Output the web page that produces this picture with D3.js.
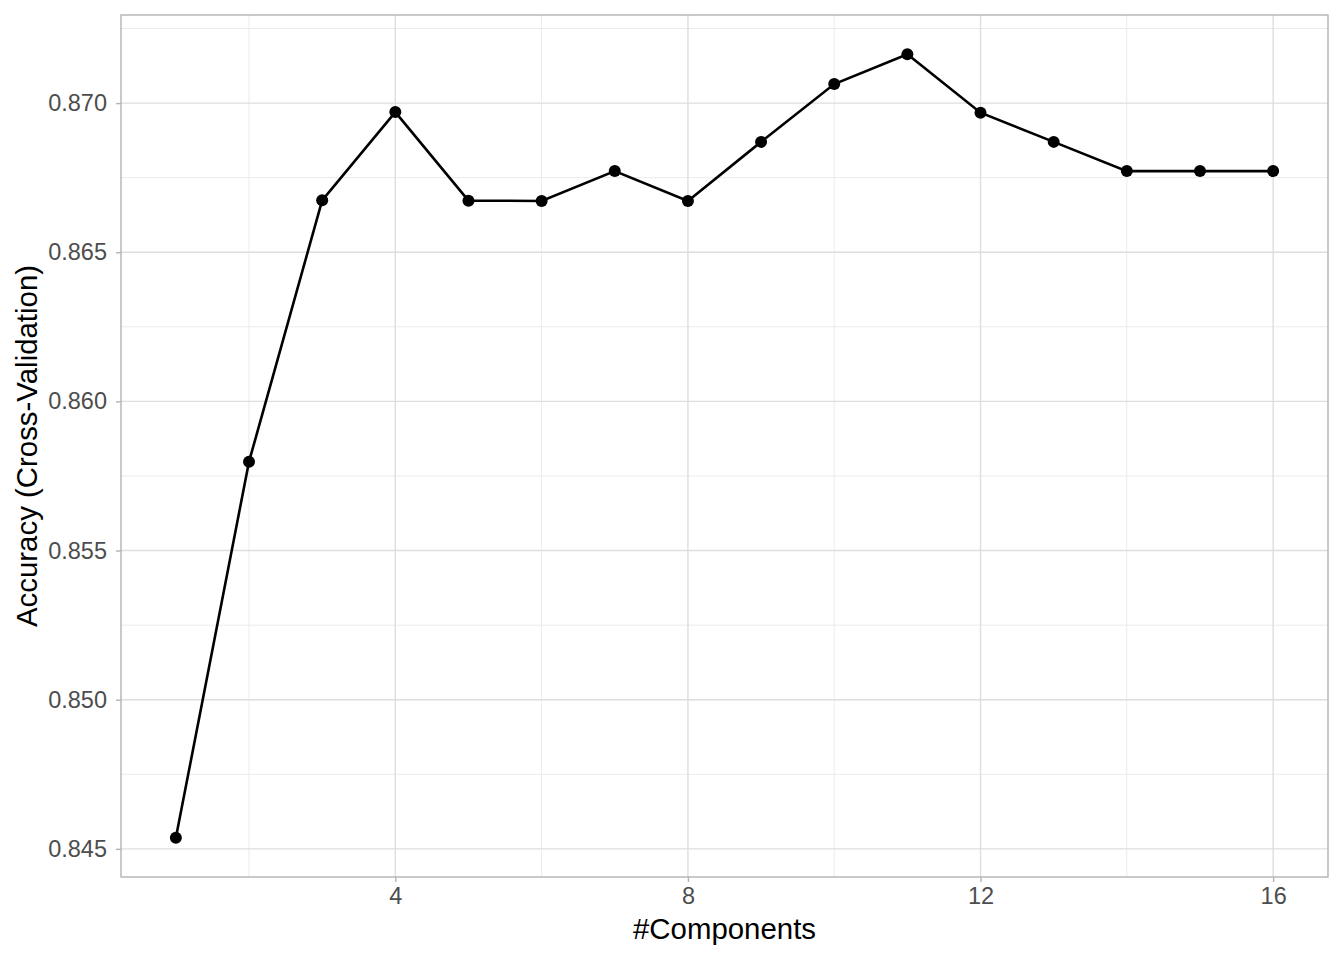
<!DOCTYPE html>
<html>
<head>
<meta charset="utf-8">
<script src="https://cdn.jsdelivr.net/npm/d3@7"></script>
<style>
  body { margin: 0; background: #fff; }
  text { font-family: "Liberation Sans", Arial, sans-serif; }
</style>
</head>
<body>
<div class="canvas"></div>
<script>
// number of components and cross-validated accuracy
const components = [1, 2, 3, 4, 5, 6, 7, 8, 9, 10, 11, 12, 13, 14, 15, 16];
const accuracy = [0.84537, 0.85798, 0.86674, 0.86970, 0.86673, 0.86672, 0.86772, 0.86672,
                  0.86870, 0.87064, 0.87164, 0.86968, 0.86870, 0.86772, 0.86772, 0.86772];
const xTicks = [4, 8, 12, 16];
const yTicks = [0.845, 0.850, 0.855, 0.860, 0.865, 0.870];

const margin = {top: 15, right: 16, bottom: 83, left: 121},
    width = 1344 - margin.left - margin.right,
    height = 960 - margin.top - margin.bottom;

const svg = d3.select('.canvas').append('svg')
    .attr('width', width + margin.left + margin.right)
    .attr('height', height + margin.top + margin.bottom);

const graph = svg.append('g')
    .attr('transform', `translate(${margin.left}, ${margin.top})`);

const data = components.map((c, i) => ({x: c, y: accuracy[i]}));

// ggplot style 5% expansion
const xe = (d3.max(components) - d3.min(components)) * 0.05;
const x = d3.scaleLinear()
    .domain([d3.min(components) - xe, d3.max(components) + xe])
    .range([0, width]);

const yMin = d3.min(accuracy), yMax = d3.max(accuracy);
const ye = (yMax - yMin) * 0.05;
const y = d3.scaleLinear()
    .domain([yMin - ye, yMax + ye])
    .range([height, 0]);

// minor grid at midpoints
const xMinor = [2, 6, 10, 14];
const yMinor = yTicks.slice(0, -1).map(v => v + 0.0025).concat([0.8725]);

graph.selectAll('.xminor').data(xMinor).enter().append('line')
    .attr('x1', d => x(d)).attr('x2', d => x(d))
    .attr('y1', 0).attr('y2', height)
    .attr('stroke', '#ebebeb').attr('stroke-width', 1);
graph.selectAll('.yminor').data(yMinor.filter(v => v < y.domain()[1])).enter().append('line')
    .attr('x1', 0).attr('x2', width)
    .attr('y1', d => y(d)).attr('y2', d => y(d))
    .attr('stroke', '#ebebeb').attr('stroke-width', 1);

graph.selectAll('.xmajor').data(xTicks).enter().append('line')
    .attr('x1', d => x(d)).attr('x2', d => x(d))
    .attr('y1', 0).attr('y2', height)
    .attr('stroke', '#dedede').attr('stroke-width', 1.4);
graph.selectAll('.ymajor').data(yTicks).enter().append('line')
    .attr('x1', 0).attr('x2', width)
    .attr('y1', d => y(d)).attr('y2', d => y(d))
    .attr('stroke', '#dedede').attr('stroke-width', 1.4);

// axes
const xAxis = graph.append('g')
    .attr('transform', `translate(0, ${height})`)
    .call(d3.axisBottom(x).tickValues(xTicks).tickSize(5).tickPadding(5).tickFormat(d3.format('d')));
const yAxis = graph.append('g')
    .call(d3.axisLeft(y).tickValues(yTicks).tickSize(5).tickPadding(9).tickFormat(d3.format('.3f')));

[xAxis, yAxis].forEach(a => {
  a.select('.domain').remove();
  a.attr('font-size', null);
  a.selectAll('line').attr('stroke', '#b3b3b3').attr('stroke-width', 1.4);
  a.selectAll('text').attr('fill', '#4d4d4d').style('font-size', '23.5px')
    .style('font-family', '"Liberation Sans", Arial, sans-serif');
});

// line and points
graph.append('path')
    .datum(data)
    .attr('fill', 'none')
    .attr('stroke', '#000')
    .attr('stroke-width', 2.6)
    .attr('d', d3.line().x(d => x(d.x)).y(d => y(d.y)));

graph.selectAll('circle').data(data).enter().append('circle')
    .attr('cx', d => x(d.x))
    .attr('cy', d => y(d.y))
    .attr('r', 6)
    .attr('fill', '#000');

// panel border
graph.append('rect')
    .attr('width', width).attr('height', height)
    .attr('fill', 'none')
    .attr('stroke', '#b3b3b3')
    .attr('stroke-width', 1.4);

// axis titles
svg.append('text')
    .attr('x', margin.left + width / 2)
    .attr('y', 939)
    .attr('text-anchor', 'middle')
    .style('font-size', '29.4px')
    .text('#Components');

svg.append('text')
    .attr('transform', `translate(37, ${margin.top + height / 2}) rotate(-90)`)
    .attr('text-anchor', 'middle')
    .style('font-size', '29.4px')
    .text('Accuracy (Cross-Validation)');
</script>
</body>
</html>
